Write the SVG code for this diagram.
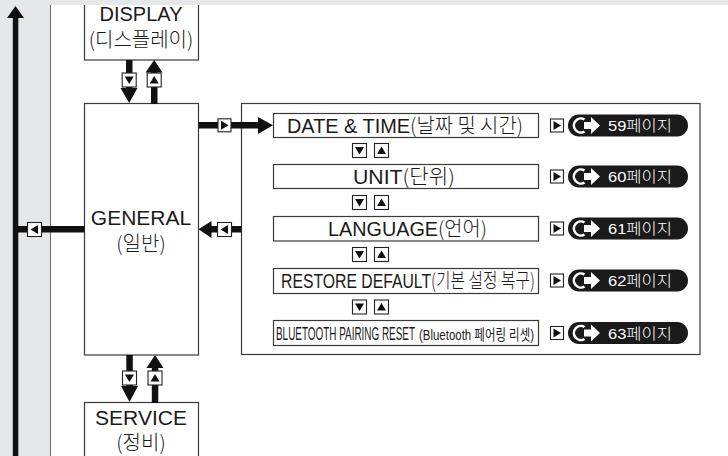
<svg xmlns="http://www.w3.org/2000/svg" xmlns:xlink="http://www.w3.org/1999/xlink" width="728" height="456" viewBox="0 0 728 456">
<style>
.box{fill:#fff;stroke:#3a3a3a;stroke-width:1.2}
.btn{fill:#fff;stroke:#222;stroke-width:1.1}
.tri{fill:#111}
.blk{fill:#111}
.t{font-family:"Liberation Sans","Noto Sans CJK KR",sans-serif;fill:#1a1a1a}
.k{font-family:"Noto Sans CJK KR","Liberation Sans",sans-serif;font-weight:300}
.c{text-anchor:middle}
.pt{font-family:"Liberation Sans","Noto Sans CJK KR",sans-serif;fill:#fff;font-size:15px}
.pill{fill:#1a1a1a}
</style>
<defs>
<g id="bD"><rect class="btn" x="-7" y="-7" width="14" height="14"/><path class="tri" d="M-4.5 -3.5 L4.5 -3.5 L0 4 Z"/></g>
<g id="bU"><rect class="btn" x="-7" y="-7" width="14" height="14"/><path class="tri" d="M-4.5 3.5 L4.5 3.5 L0 -4 Z"/></g>
<g id="bL"><rect class="btn" x="-7" y="-7" width="14" height="14"/><path class="tri" d="M3.5 -4.5 L3.5 4.5 L-4 0 Z"/></g>
<g id="bR"><rect class="btn" x="-6.5" y="-6.5" width="13" height="13"/><path class="tri" d="M-3.5 -4.5 L-3.5 4.5 L4 0 Z"/></g>
<g id="pillIcon">
<path fill="none" stroke="#fff" stroke-width="2.6" d="M16.5 -6 A7 7 0 1 0 16.5 6"/>
<path fill="#fff" d="M16 -3.5 L23 -3.5 L23 -8.5 L32 0 L23 8.5 L23 3.5 L16 3.5 Z"/>
</g>
</defs>

<rect x="0" y="0" width="728" height="456" fill="#fff"/>
<rect x="0" y="0" width="50" height="456" fill="#e6e7e8"/>
<line x1="50.5" y1="0" x2="50.5" y2="456" stroke="#6a6a6a" stroke-width="1"/>

<g id="display">
<rect class="box" x="84.5" y="-5" width="114" height="65"/>
<text class="t c" x="141" y="21" font-size="20">DISPLAY</text>
<text class="t k c" x="141" y="47" font-size="20">(디스플레이)</text>
</g>

<rect x="0" y="0" width="728" height="5" fill="#e6e7e8"/>

<g id="general">
<rect class="box" x="84.5" y="103.5" width="114" height="251.5"/>
<text class="t c" x="141" y="225" font-size="21">GENERAL</text>
<text class="t k c" x="141" y="251" font-size="20">(일반)</text>
</g>

<g id="service">
<rect class="box" x="84.5" y="402.5" width="114" height="60"/>
<text class="t c" x="141" y="425" font-size="21">SERVICE</text>
<text class="t k c" x="141" y="450" font-size="20">(정비)</text>
</g>

<g id="general-panel">
<rect class="box" x="241.5" y="103.5" width="458.5" height="251"/>
</g>

<g id="connectors">
<rect class="blk" x="12.8" y="17" width="5.5" height="439"/>
<path class="blk" d="M7 18 L24 18 L15.5 6 Z"/>
<rect class="blk" x="15" y="226" width="69.5" height="6.5"/>
<use xlink:href="#bL" x="34.5" y="229.5"/>
<rect class="blk" x="126" y="60" width="6.5" height="29"/>
<path class="blk" d="M120.5 88 L137.5 88 L129.2 103 Z"/>
<use xlink:href="#bD" x="129.2" y="80"/>
<rect class="blk" x="151" y="71" width="6.5" height="33"/>
<path class="blk" d="M145.5 72.5 L162.5 72.5 L154.2 60 Z"/>
<use xlink:href="#bU" x="154.2" y="80"/>
<rect class="blk" x="126.3" y="355" width="6.5" height="32"/>
<path class="blk" d="M121 386 L138 386 L129.5 402 Z"/>
<use xlink:href="#bD" x="129.5" y="378"/>
<rect class="blk" x="151.8" y="367" width="6.5" height="36"/>
<path class="blk" d="M146.5 368 L163.5 368 L155 355 Z"/>
<use xlink:href="#bU" x="155" y="378"/>
<rect class="blk" x="210" y="226" width="31.5" height="6.5"/>
<path class="blk" d="M211.5 221 L211.5 238 L198.5 229.3 Z"/>
<use xlink:href="#bL" x="224.5" y="229.5"/>
<rect class="blk" x="198.5" y="122" width="61" height="6.5"/>
<path class="blk" d="M258 117 L258 134 L273 125.3 Z"/>
<use xlink:href="#bR" x="224.5" y="125.3"/>
<use xlink:href="#bD" x="359.5" y="150.5"/>
<use xlink:href="#bU" x="381.5" y="150.5"/>
<use xlink:href="#bD" x="359.5" y="202.5"/>
<use xlink:href="#bU" x="381.5" y="202.5"/>
<use xlink:href="#bD" x="359.5" y="254.5"/>
<use xlink:href="#bU" x="381.5" y="254.5"/>
<use xlink:href="#bD" x="359.5" y="307"/>
<use xlink:href="#bU" x="381.5" y="307"/>
</g>

<g id="row-date">
<rect class="box" x="273.5" y="113.5" width="265" height="24"/>
<text class="t" x="287" y="133" font-size="20" textLength="236" lengthAdjust="spacingAndGlyphs">DATE &amp; TIME<tspan class="k">(날짜 및 시간)</tspan></text>
<use xlink:href="#bR" x="557" y="125.5"/>
<rect class="pill" x="568" y="114.5" width="120" height="22" rx="11"/>
<use xlink:href="#pillIcon" x="568" y="125.5"/>
<text class="pt" x="608" y="131" textLength="64" lengthAdjust="spacingAndGlyphs">59<tspan class="k">페이지</tspan></text>
</g>

<g id="row-unit">
<rect class="box" x="273.5" y="164.5" width="265" height="24"/>
<text class="t" x="353" y="184" font-size="20" textLength="102" lengthAdjust="spacingAndGlyphs">UNIT<tspan class="k">(단위)</tspan></text>
<use xlink:href="#bR" x="557" y="176.5"/>
<rect class="pill" x="568" y="165.5" width="120" height="22" rx="11"/>
<use xlink:href="#pillIcon" x="568" y="176.5"/>
<text class="pt" x="608" y="182" textLength="64" lengthAdjust="spacingAndGlyphs">60<tspan class="k">페이지</tspan></text>
</g>

<g id="row-language">
<rect class="box" x="273.5" y="216.5" width="265" height="24.5"/>
<text class="t" x="328" y="236" font-size="20" textLength="159" lengthAdjust="spacingAndGlyphs">LANGUAGE<tspan class="k">(언어)</tspan></text>
<use xlink:href="#bR" x="557" y="228.5"/>
<rect class="pill" x="568" y="217.5" width="120" height="22" rx="11"/>
<use xlink:href="#pillIcon" x="568" y="228.5"/>
<text class="pt" x="608" y="234" textLength="64" lengthAdjust="spacingAndGlyphs">61<tspan class="k">페이지</tspan></text>
</g>

<g id="row-restore">
<rect class="box" x="273.5" y="268.5" width="265" height="25"/>
<text class="t" x="281" y="288" font-size="20" textLength="254" lengthAdjust="spacingAndGlyphs">RESTORE DEFAULT<tspan class="k">(기본 설정 복구)</tspan></text>
<use xlink:href="#bR" x="557" y="280.5"/>
<rect class="pill" x="568" y="269.5" width="120" height="22" rx="11"/>
<use xlink:href="#pillIcon" x="568" y="280.5"/>
<text class="pt" x="608" y="286" textLength="64" lengthAdjust="spacingAndGlyphs">62<tspan class="k">페이지</tspan></text>
</g>

<g id="row-bluetooth">
<rect class="box" x="273.5" y="320.5" width="265" height="25"/>
<text class="t" x="276" y="340" font-size="18" textLength="139" lengthAdjust="spacingAndGlyphs">BLUETOOTH PAIRING RESET</text>
<text class="t" x="419" y="340" font-size="15" textLength="115" lengthAdjust="spacingAndGlyphs">(Bluetooth 페어링 리셋)</text>
<use xlink:href="#bR" x="557" y="333"/>
<rect class="pill" x="568" y="322" width="120" height="22" rx="11"/>
<use xlink:href="#pillIcon" x="568" y="333"/>
<text class="pt" x="608" y="338.5" textLength="64" lengthAdjust="spacingAndGlyphs">63<tspan class="k">페이지</tspan></text>
</g>
</svg>
